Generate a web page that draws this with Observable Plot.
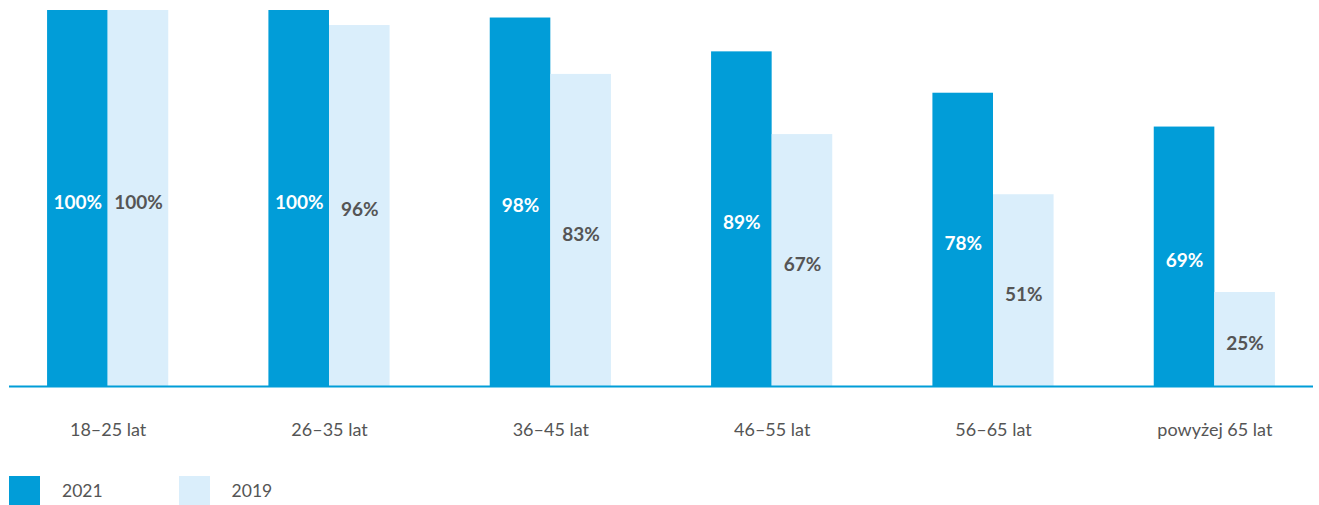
<!DOCTYPE html>
<html>
<head>
<meta charset="utf-8">
<script src="https://cdn.jsdelivr.net/npm/d3@7"></script>
<script src="https://cdn.jsdelivr.net/npm/@observablehq/plot@0.6"></script>
<style>
  body { margin: 0; background: #fff; font-family: Lato, "Open Sans", sans-serif; }
  #legend { display: flex; align-items: center; margin-top: 16px; margin-left: 9px; font-size: 17.5px; color: #555; }
  .sw { width: 31px; height: 29px; display: inline-block; }
  .item { display: flex; align-items: center; }
</style>
</head>
<body>
<div id="chart"></div>
<div id="legend"></div>
<script>
const groups = ["18–25 lat", "26–35 lat", "36–45 lat", "46–55 lat", "56–65 lat", "powyżej 65 lat"];
const values2021 = [100, 100, 98, 89, 78, 69];
const values2019 = [100, 96, 83, 67, 51, 25];
const seriesNames = ["2021", "2019"];
const colors = ["#019DD8", "#DAEEFB"];

const d21 = groups.map((g, i) => ({group: g, value: values2021[i]}));
const d19 = groups.map((g, i) => ({group: g, value: values2019[i]}));

const half = 60.6;
const chart = Plot.plot({
  width: 1319,
  height: 460,
  marginTop: 10,
  marginBottom: 74,
  marginLeft: 9,
  marginRight: 6,
  style: {fontFamily: "Lato, 'Open Sans', sans-serif", background: "#fff"},
  x: {domain: groups, paddingInner: 0.4525, paddingOuter: 0.172, round: false, label: null},
  y: {domain: [0, 100], axis: null},
  marks: [
    Plot.barY(d21, {x: "group", y: "value", fill: colors[0], insetRight: half}),
    Plot.barY(d19, {x: "group", y: "value", fill: colors[1], insetLeft: half}),
    Plot.ruleY([0], {stroke: colors[0], strokeWidth: 2}),
    Plot.text(d21, {x: "group", y: d => d.value / 2, text: d => d.value + "%", dx: -half / 2, dy: 4, fill: "#fff", fontWeight: "bold", fontSize: 19}),
    Plot.text(d19, {x: "group", y: d => d.value / 2, text: d => d.value + "%", dx: half / 2, dy: 4, fill: "#555", fontWeight: "bold", fontSize: 19}),
    Plot.axisX({tickSize: 0, tickPadding: 37, fontSize: 18, fill: "#555", label: null})
  ]
});
document.getElementById("chart").appendChild(chart);

const legend = document.getElementById("legend");
seriesNames.forEach((n, i) => {
  const it = document.createElement("div");
  it.className = "item";
  it.style.marginRight = i === 0 ? "76px" : "0";
  const sw = document.createElement("span");
  sw.className = "sw";
  sw.style.background = colors[i];
  const t = document.createElement("span");
  t.textContent = n;
  t.style.marginLeft = "22px";
  it.appendChild(sw); it.appendChild(t);
  legend.appendChild(it);
});
</script>
</body>
</html>
